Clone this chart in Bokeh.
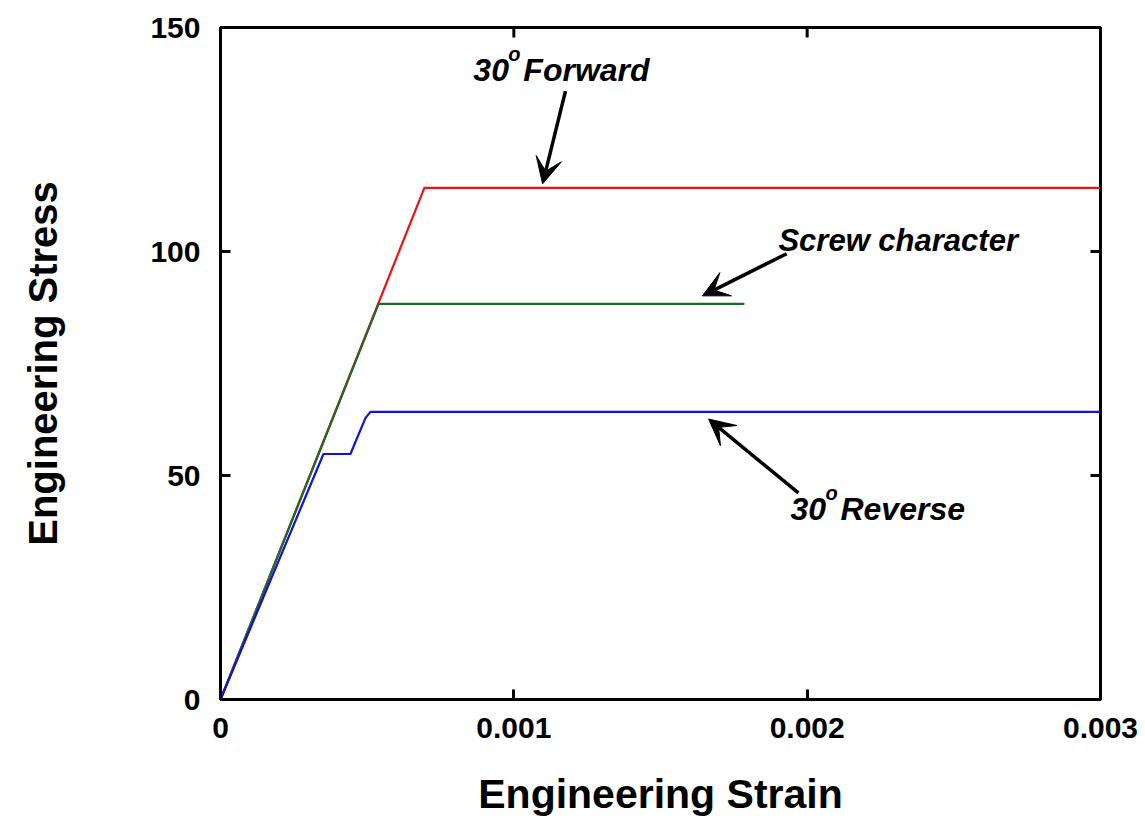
import math
from bokeh.plotting import figure
from bokeh.models import (Range1d, FixedTicker, NumeralTickFormatter,
                          Label, Arrow, VeeHead)
from bokeh.embed import file_html
from bokeh.resources import INLINE

# ---- data ----
forward_strain = [0.0, 0.000695, 0.003]
forward_stress = [0.0, 114.2, 114.2]

screw_strain = [0.0, 0.000539, 0.001786]
screw_stress = [0.0, 88.3, 88.3]

reverse_strain = [0.0, 0.000351, 0.000443, 0.000494, 0.000511, 0.003]
reverse_stress = [0.0, 54.8, 54.8, 62.8, 64.2, 64.2]

x_ticks = [0, 0.001, 0.002, 0.003]
y_ticks = [0, 50, 100, 150]
x_max = 0.003
y_max = 150

FONT = "Liberation Sans"

p = figure(width=1140, height=819, output_backend="svg", toolbar_location=None,
           x_range=Range1d(0, x_max), y_range=Range1d(0, y_max),
           x_axis_label="Engineering Strain", y_axis_label="Engineering Stress")
p.min_border_left = 220
p.min_border_right = 40
p.min_border_top = 27
p.min_border_bottom = 100
p.grid.visible = False
p.background_fill_color = "white"
p.border_fill_color = "white"
p.outline_line_color = "black"
p.outline_line_width = 3

p.line(forward_strain, forward_stress, line_color="#f01010", line_width=2.2)
p.line(screw_strain, screw_stress, line_color="#1a6b2a", line_width=2.2)
p.line(reverse_strain, reverse_stress, line_color="#1010e0", line_width=2.2)


def style_axis(ax, ticks):
    ax.ticker = FixedTicker(ticks=ticks)
    ax.axis_line_width = 3
    ax.axis_line_color = "black"
    ax.major_tick_line_width = 3
    ax.major_tick_line_color = "black"
    ax.major_tick_in = 10
    ax.major_tick_out = 0
    ax.minor_tick_line_color = None
    ax.major_label_text_font = FONT
    ax.major_label_text_font_style = "bold"
    ax.major_label_text_color = "black"
    ax.major_label_text_font_size = "30px"
    ax.axis_label_text_font = FONT
    ax.axis_label_text_font_style = "bold"
    ax.axis_label_text_color = "black"


style_axis(p.xaxis[0], x_ticks)
style_axis(p.yaxis[0], y_ticks)
p.xaxis[0].formatter = NumeralTickFormatter(format="0.[000]")
p.yaxis[0].formatter = NumeralTickFormatter(format="0")
p.xaxis[0].major_label_standoff = 18
p.yaxis[0].major_label_standoff = 20
p.xaxis[0].axis_label_standoff = 30
p.yaxis[0].axis_label_standoff = 82
p.xaxis[0].axis_label_text_font_size = "41px"
p.yaxis[0].axis_label_text_font_size = "40px"

# inward ticks on the top and right edges of the frame
p.ray(x=x_ticks, y=[y_max] * len(x_ticks), length=10, length_units="screen",
      angle=-math.pi / 2, line_color="black", line_width=3)
p.ray(x=[x_max] * len(y_ticks), y=y_ticks, length=10, length_units="screen",
      angle=math.pi, line_color="black", line_width=3)


def label(x, y, text, size="32px", dx=0, dy=0):
    p.add_layout(Label(x=x, y=y, text=text, x_offset=dx, y_offset=dy,
                       text_font=FONT, text_font_style="bold italic",
                       text_font_size=size, text_color="black",
                       text_align="left", text_baseline="alphabetic"))


# 30° Forward
label(0.000862, 140.6, "30")
label(0.000862, 140.6, "o", size="20px", dx=35, dy=16)
label(0.000862, 140.6, "Forward", dx=50)
# Screw character
label(0.001902, 102.4, "Screw character", size="31px")
# 30° Reverse
label(0.001943, 42.6, "30")
label(0.001943, 42.6, "o", size="20px", dx=35, dy=16)
label(0.001943, 42.6, "Reverse", dx=50)


def arrow(xs, ys, xe, ye):
    p.add_layout(Arrow(x_start=xs, y_start=ys, x_end=xe, y_end=ye,
                       line_width=3.5, line_color="black",
                       end=VeeHead(size=26, fill_color="black",
                                   line_color="black", line_width=1)))


arrow(0.001176, 135.8, 0.001098, 115.1)
arrow(0.00193, 99.5, 0.001643, 90.1)
arrow(0.00197, 46.1, 0.001664, 62.6)

open("out.html", "w").write(file_html(p, INLINE))
